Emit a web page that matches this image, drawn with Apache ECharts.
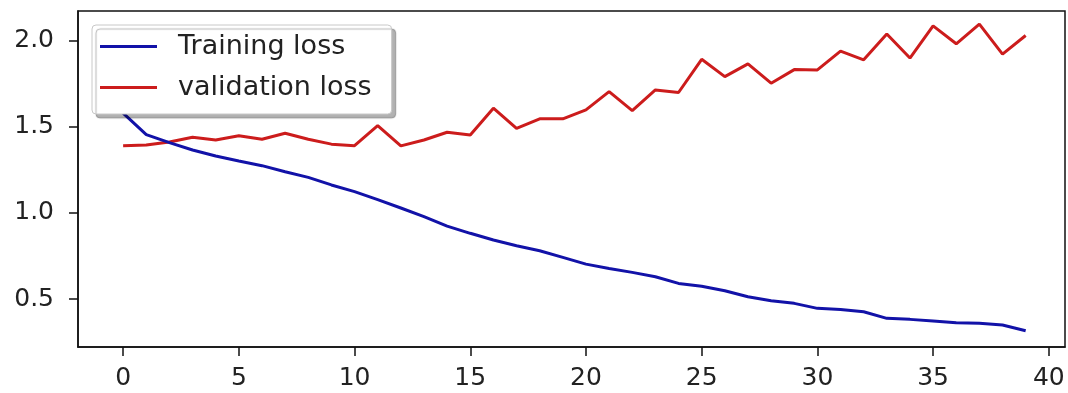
<!DOCTYPE html>
<html>
<head>
<meta charset="utf-8">
<script src="https://cdn.jsdelivr.net/npm/echarts@6/dist/echarts.min.js"></script>
<style>
  html, body { margin: 0; padding: 0; background: #fff; }
  #main { width: 1068px; height: 393px; }
</style>
</head>
<body>
<div id="main"></div>
<script>
// epochs 0..39, values
const epochs = [
  0, 1, 2, 3, 4, 5, 6, 7, 8, 9,
  10, 11, 12, 13, 14, 15, 16, 17, 18, 19,
  20, 21, 22, 23, 24, 25, 26, 27, 28, 29,
  30, 31, 32, 33, 34, 35, 36, 37, 38, 39
];
const trainLoss = [
  1.58, 1.455, 1.409, 1.366, 1.331, 1.302, 1.275, 1.24, 1.207, 1.163,
  1.124, 1.078, 1.029, 0.979, 0.924, 0.882, 0.843, 0.81, 0.781, 0.742,
  0.703, 0.678, 0.655, 0.63, 0.591, 0.574, 0.548, 0.513, 0.49, 0.475,
  0.446, 0.44, 0.426, 0.388, 0.382, 0.372, 0.362, 0.359, 0.349, 0.316
];
const valLoss = [
  1.391, 1.395, 1.413, 1.44, 1.424, 1.449, 1.428, 1.463, 1.428, 1.40,
  1.391, 1.508, 1.39, 1.424, 1.469, 1.453, 1.609, 1.492, 1.547, 1.547,
  1.599, 1.705, 1.595, 1.715, 1.70, 1.893, 1.792, 1.866, 1.754, 1.833,
  1.831, 1.94, 1.89, 2.04, 1.90, 2.087, 1.983, 2.097, 1.923, 2.031
];
const xTicks = [0, 5, 10, 15, 20, 25, 30, 35, 40];
const yTicks = [0.5, 1.0, 1.5, 2.0];

let myChart = echarts.init(document.getElementById("main"));

const tickFont = {
  fontFamily: "DejaVu Sans",
  fontSize: 25,
  color: "#222",
};

let option = {
  animation: false,
  backgroundColor: "#fff",
  grid: {
    left: 78,
    right: 3,
    top: 11,
    bottom: 46,
    show: true,
    borderColor: "#111",
    borderWidth: 1.5,
  },
  legend: {
    orient: "vertical",
    left: 92,
    top: 25,
    padding: [8, 20, 13, 8],
    itemWidth: 57,
    itemHeight: 28,
    itemGap: 14,
    icon: "path://M0,0H60V3H0Z",
    backgroundColor: "#fff",
    borderColor: "#c8c8c8",
    borderWidth: 1,
    borderRadius: 4,
    shadowColor: "rgba(0,0,0,0.3)",
    shadowBlur: 1,
    shadowOffsetX: 4,
    shadowOffsetY: 4,
    textStyle: {
      fontFamily: "DejaVu Sans",
      fontSize: 27,
      color: "#222",
      padding: [0, 0, 0, 16],
    },
    data: ["Training loss", "validation loss"],
  },
  xAxis: {
    type: "value",
    min: -1.95,
    max: 40.7,
    splitLine: { show: false },
    axisLine: { show: true, onZero: false, lineStyle: { color: "#111", width: 1.5 } },
    axisTick: {
      show: true,
      length: 9,
      lineStyle: { color: "#111", width: 1.5 },
      customValues: xTicks,
    },
    axisLabel: {
      ...tickFont,
      margin: 19,
      customValues: xTicks,
      formatter: (v) => String(v),
    },
  },
  yAxis: {
    type: "value",
    min: 0.2215,
    max: 2.1735,
    splitLine: { show: false },
    axisLine: { show: true, onZero: false, lineStyle: { color: "#111", width: 1.5 } },
    axisTick: {
      show: true,
      length: 9,
      lineStyle: { color: "#111", width: 1.5 },
      customValues: yTicks,
    },
    axisLabel: {
      ...tickFont,
      margin: 24,
      customValues: yTicks,
      formatter: (v) => v.toFixed(1),
    },
  },
  series: [
    {
      name: "Training loss",
      type: "line",
      symbol: "none",
      color: "#1212a8",
      lineStyle: { width: 3, color: "#1212a8" },
      data: epochs.map((e, i) => [e, trainLoss[i]]),
      z: 3,
    },
    {
      name: "validation loss",
      type: "line",
      symbol: "none",
      color: "#cc1c1c",
      lineStyle: { width: 3, color: "#cc1c1c" },
      data: epochs.map((e, i) => [e, valLoss[i]]),
      z: 2,
    },
  ],
};

if (option && typeof option === "object") {
  myChart.setOption(option);
}
window.addEventListener("resize", myChart.resize);
</script>
</body>
</html>
